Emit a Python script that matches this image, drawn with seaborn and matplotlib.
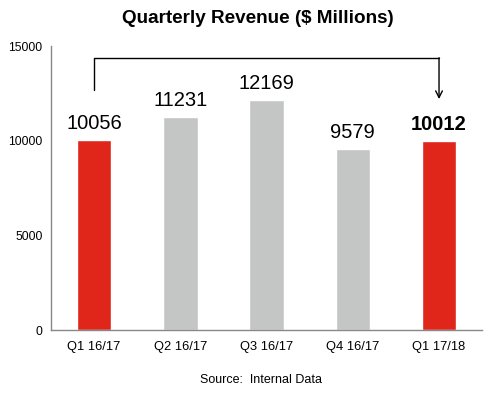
import matplotlib
matplotlib.use('Agg')
import matplotlib.pyplot as plt
import pandas as pd
import seaborn as sns

quarters = ['Q1 16/17', 'Q2 16/17', 'Q3 16/17', 'Q4 16/17', 'Q1 17/18']
revenue = [10056, 11231, 12169, 9579, 10012]
bar_colors = ['#E0251B', '#C4C6C5', '#C4C6C5', '#C4C6C5', '#E0251B']

sns.set_style('white')
plt.rcParams['font.family'] = ['Liberation Sans', 'DejaVu Sans']
plt.rcParams['text.color'] = 'black'
plt.rcParams['xtick.color'] = 'black'
plt.rcParams['ytick.color'] = 'black'

df = pd.DataFrame({'quarter': quarters, 'revenue': revenue})

fig = plt.figure(figsize=(4.88, 3.94), dpi=100)
ax = fig.add_axes([0.1045, 0.1624, 0.8835, 0.7206])

sns.barplot(data=df, x='quarter', y='revenue', hue='quarter',
            palette=bar_colors, width=0.4, legend=False, ax=ax, saturation=1)

ax.set_ylim(0, 15000)
ax.set_xlim(-0.5, len(quarters) - 0.5)
ax.set_yticks([0, 5000, 10000, 15000])
ax.set_xlabel('')
ax.set_ylabel('')

# ticks between categories, labels centred without marks
ax.set_xticks([i - 0.5 for i in range(len(quarters) + 1)], minor=True)
ax.tick_params(axis='x', which='major', length=0, labelsize=9.3, pad=8)
ax.tick_params(axis='x', which='minor', length=4, color='#888888', direction='out')
ax.tick_params(axis='y', length=4, color='#888888', direction='out', labelsize=8.7, pad=2)

for side in ['top', 'right']:
    ax.spines[side].set_visible(False)
for side in ['left', 'bottom']:
    ax.spines[side].set_color('#888888')
    ax.spines[side].set_linewidth(1)

# value labels
for i, v in enumerate(revenue):
    weight = 'bold' if i == len(revenue) - 1 else 'normal'
    ax.annotate(str(v), (i, v), xytext=(0, 5), textcoords='offset points',
                ha='center', va='bottom', fontsize=14.5, fontweight=weight)

# bracket arrow comparing first and last quarter
top = 14366
ax.plot([0, 0, 4], [12676, top, top], color='black', lw=1, clip_on=False)
ax.annotate('', xy=(4, 12200), xytext=(4, top + 20),
            arrowprops=dict(arrowstyle='->', color='black', lw=1,
                            shrinkA=0, shrinkB=0, mutation_scale=12))

fig.text(0.529, 0.954, 'Quarterly Revenue ($ Millions)', ha='center', va='center',
         fontsize=13.6, fontweight='bold')
fig.text(0.535, 0.035, 'Source:  Internal Data', ha='center', va='center', fontsize=9)

fig.savefig('out.png', dpi=100)
